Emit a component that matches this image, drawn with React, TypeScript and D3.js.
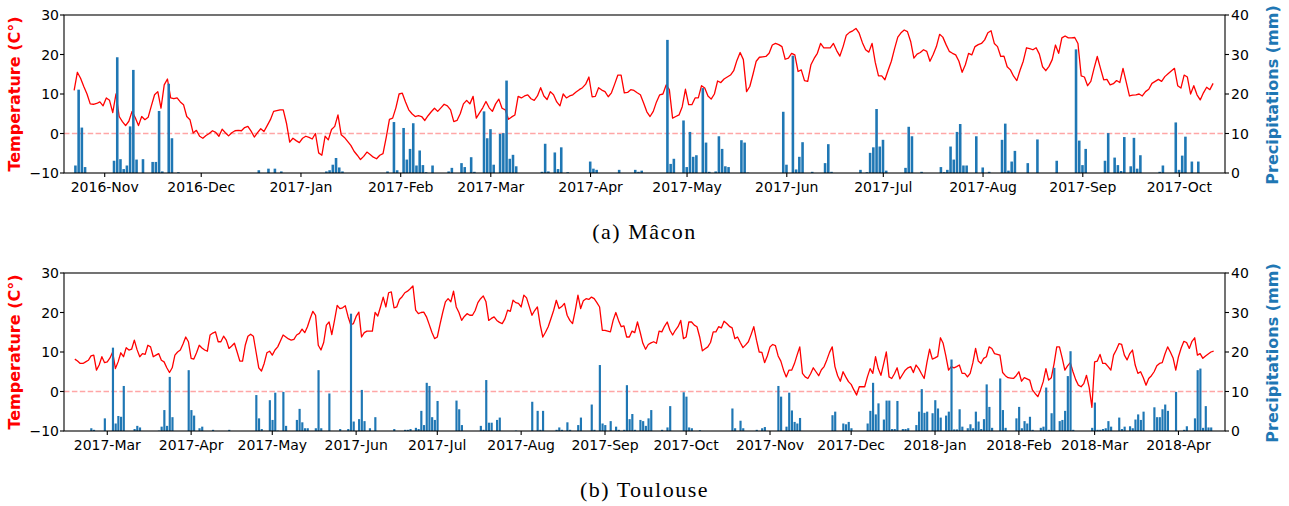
import React from "react";
import * as d3 from "d3";

const DAY = 864e5;

// Daily mean temperature, Mâcon, from 2016-10-22
const tempMacon = [
  10.9, 15.5, 14.0, 11.9, 10.0, 7.5, 7.4, 7.6, 8.0, 7.0,
  9.0, 8.4, 5.3, 10.0, 4.3, 3.0, 2.0, 3.1, 5.6, 4.0,
  2.0, 4.3, 3.5, 4.1, 7.0, 9.8, 10.6, 6.4, 12.3, 13.8,
  9.0, 8.8, 9.0, 8.0, 7.3, 4.3, 3.5, 0.1, 0.8, -0.7,
  -1.2, -0.5, 0.0, 0.7, 0.3, -0.7, 1.1, 0.2, -0.6, 0.2,
  0.7, 0.8, 0.7, 1.5, 1.8, 0.6, -0.9, 0.2, 1.2, 0.5,
  2.0, 3.5, 5.6, 5.8, 6.0, 6.0, 2.6, -2.2, -1.2, -1.8,
  -2.3, -1.2, -0.7, -1.0, -1.4, 0.0, -4.9, -5.5, -0.7, -1.6,
  1.0, 1.8, 4.7, -0.3, -1.0, -2.0, -3.0, -4.5, -5.5, -6.6,
  -5.8, -4.7, -5.3, -6.0, -6.4, -5.5, -5.1, -1.0, 3.6, 3.9,
  6.5, 10.0, 10.2, 8.0, 6.0, 5.0, 4.3, 4.5, 4.3, 3.3,
  4.5, 5.5, 6.4, 5.6, 6.5, 7.4, 7.0, 6.0, 3.0, 3.3,
  5.0, 7.5, 8.4, 7.5, 9.4, 3.9, 5.2, 6.5, 8.1, 6.5,
  5.6, 7.5, 8.7, 6.4, 6.0, 3.6, 4.2, 4.7, 9.4, 9.0,
  9.5, 9.8, 8.8, 8.4, 9.5, 11.6, 9.5, 8.6, 10.6, 9.8,
  8.0, 7.0, 10.0, 9.0, 9.5, 9.8, 10.5, 11.1, 11.6, 12.5,
  14.3, 9.3, 9.4, 11.6, 11.0, 10.6, 9.3, 10.3, 12.5, 14.8,
  14.8, 10.3, 10.4, 11.1, 10.9, 10.3, 9.8, 7.7, 5.5, 4.3,
  5.6, 8.0, 9.8, 10.0, 12.3, 11.1, 3.9, 4.3, 4.7, 6.8,
  11.2, 7.3, 7.3, 9.0, 9.0, 12.1, 11.5, 9.5, 8.7, 10.0,
  13.3, 12.9, 13.8, 14.3, 14.8, 15.9, 18.5, 20.5, 18.7, 10.6,
  11.9, 15.0, 18.3, 19.3, 19.4, 19.5, 20.3, 22.4, 22.8, 22.5,
  22.0, 18.8, 19.1, 20.3, 19.9, 15.7, 16.1, 13.4, 13.2, 17.4,
  19.0, 20.3, 22.8, 21.7, 21.7, 21.7, 22.8, 21.0, 19.6, 22.0,
  24.9, 25.6, 26.0, 26.6, 25.4, 23.0, 21.2, 20.6, 22.8, 18.0,
  14.6, 14.6, 13.6, 16.0, 18.3, 21.5, 24.4, 25.5, 26.2, 25.8,
  23.3, 19.1, 20.1, 20.5, 21.2, 20.8, 18.3, 20.0, 22.0, 25.1,
  24.4, 22.5, 20.8, 20.3, 19.9, 18.3, 15.5, 17.4, 20.3, 19.9,
  22.0, 22.5, 22.8, 23.7, 25.5, 26.0, 22.8, 22.0, 19.5, 19.6,
  16.9, 16.1, 14.5, 13.4, 16.0, 18.3, 21.7, 21.5, 21.2, 21.7,
  20.1, 16.9, 15.9, 17.0, 18.7, 22.4, 20.3, 24.2, 24.7, 24.2,
  24.2, 24.3, 22.8, 14.6, 14.3, 12.1, 13.2, 16.5, 19.5, 16.5,
  13.6, 13.7, 12.3, 12.6, 13.4, 12.9, 16.5, 13.0, 9.5, 9.7,
  9.8, 10.0, 9.5, 10.6, 11.2, 12.7, 13.2, 13.7, 13.2, 14.4,
  15.1, 15.8, 16.5, 12.1, 11.5, 14.8, 14.3, 10.0, 12.1, 9.8,
  8.5, 10.3, 11.7, 11.1, 12.7,
];

// [day index, mm] Mâcon
const precipMacon: [number, number][] = [
  [0, 1.9], [1, 21.1], [2, 11.5], [3, 1.5], [12, 3.1], [13, 29.3], [14, 3.5], [15, 1.0], [16, 1.9], [17, 11.8],
  [18, 26.1], [19, 3.4], [21, 3.5], [24, 2.8], [25, 2.8], [26, 15.7], [27, 0.4], [29, 22.6], [30, 8.8], [32, 0.2],
  [57, 0.7], [60, 1.1], [62, 1.1], [64, 0.4], [78, 0.4], [79, 0.7], [80, 2.1], [81, 3.8], [82, 1.4], [83, 0.4],
  [97, 0.4], [99, 12.9], [100, 0.7], [102, 11.4], [103, 3.4], [104, 6.1], [105, 12.6], [106, 1.9], [107, 5.7], [108, 2.0],
  [109, 0.2], [111, 1.9], [116, 0.4], [117, 1.3], [120, 2.5], [121, 1.5], [123, 4.0], [124, 0.3], [127, 15.6], [128, 8.8],
  [129, 11.1], [130, 2.1], [132, 9.9], [133, 10.1], [134, 23.4], [135, 3.6], [136, 4.6], [137, 1.7], [145, 0.3], [146, 7.4],
  [147, 0.4], [149, 5.2], [150, 1.0], [151, 6.5], [153, 0.2], [160, 2.9], [161, 1.1], [162, 0.8], [169, 0.8], [174, 0.8],
  [175, 0.3], [176, 0.6], [184, 33.7], [185, 2.3], [186, 3.6], [189, 13.3], [190, 1.5], [191, 10.4], [192, 4.1], [193, 4.5],
  [195, 21.5], [196, 7.7], [197, 0.3], [199, 0.4], [200, 9.3], [201, 6.1], [202, 1.7], [203, 1.5], [207, 8.3], [208, 7.7],
  [209, 0.1], [220, 15.5], [221, 2.1], [223, 29.7], [224, 0.9], [225, 4.1], [226, 7.8], [229, 0.3], [233, 2.5], [234, 7.3],
  [235, 0.3], [244, 0.8], [246, 0.2], [247, 5.1], [248, 6.5], [249, 16.2], [250, 6.7], [251, 8.4], [252, 0.6], [258, 1.3],
  [259, 11.7], [260, 9.3], [263, 0.3], [269, 1.5], [270, 0.2], [271, 0.8], [272, 6.7], [273, 3.4], [274, 10.4], [275, 12.4],
  [276, 1.9], [277, 1.9], [280, 9.3], [282, 1.4], [284, 0.3], [288, 8.4], [289, 12.5], [290, 0.6], [291, 2.9], [292, 5.6],
  [296, 2.5], [299, 8.5], [305, 3.1], [311, 31.3], [312, 8.2], [313, 2.0], [314, 6.1], [320, 3.1], [321, 10.1], [323, 3.9],
  [324, 2.0], [325, 0.5], [326, 9.1], [328, 1.7], [329, 8.9], [330, 1.1], [331, 4.5], [337, 0.3], [338, 1.9], [342, 12.8],
  [343, 0.8], [344, 4.4], [345, 9.2], [347, 2.9], [349, 2.9],
];

// Daily mean temperature, Toulouse, from 2017-02-17
const tempToulouse = [
  8.2, 7.7, 7.1, 7.1, 7.5, 7.9, 9.0, 9.2, 5.4, 6.7,
  8.8, 7.3, 7.5, 8.5, 10.0, 5.8, 7.5, 9.8, 8.8, 11.1,
  10.5, 10.7, 13.0, 10.6, 8.8, 9.6, 9.4, 11.7, 11.3, 8.8,
  9.2, 9.6, 7.9, 7.5, 6.0, 4.8, 6.0, 9.2, 10.0, 10.5,
  12.0, 13.8, 12.6, 8.4, 8.2, 9.8, 11.7, 11.0, 10.5, 10.2,
  14.3, 14.8, 15.1, 12.6, 12.6, 14.0, 13.0, 10.9, 11.5, 12.2,
  10.0, 7.7, 7.7, 11.7, 14.0, 14.5, 14.0, 10.0, 6.0, 5.2,
  7.1, 9.8, 10.2, 9.2, 10.5, 11.3, 12.8, 14.3, 13.8, 13.3,
  13.0, 13.2, 14.3, 14.7, 15.8, 14.9, 16.4, 18.5, 20.3, 19.3,
  11.7, 10.5, 12.4, 16.8, 17.6, 14.4, 18.0, 21.8, 21.0, 21.2,
  21.7, 19.0, 16.9, 17.2, 19.0, 20.1, 13.8, 14.9, 15.3, 15.3,
  15.3, 20.0, 19.1, 21.4, 23.9, 21.4, 25.0, 25.2, 21.2, 21.4,
  23.3, 24.0, 25.0, 25.4, 26.0, 26.7, 20.6, 19.7, 20.0, 20.1,
  18.9, 17.0, 15.0, 13.4, 13.8, 17.0, 20.0, 22.7, 23.5, 22.7,
  25.4, 21.4, 20.0, 18.0, 19.0, 19.7, 19.3, 19.3, 20.5, 22.5,
  23.5, 24.2, 22.7, 18.0, 18.5, 18.9, 18.0, 17.5, 17.2, 18.4,
  20.6, 20.3, 23.1, 22.5, 22.3, 21.4, 24.4, 23.7, 21.5, 19.3,
  20.5, 21.4, 17.0, 13.8, 15.0, 16.4, 18.4, 20.5, 23.1, 21.0,
  21.5, 22.3, 19.3, 18.0, 17.2, 20.5, 24.4, 21.0, 23.0, 23.5,
  23.3, 23.9, 23.5, 22.5, 21.4, 15.5, 15.5, 15.3, 15.1, 18.0,
  20.0, 18.0, 16.4, 16.6, 13.8, 13.8, 15.3, 14.9, 17.6, 15.0,
  12.2, 10.7, 11.9, 12.3, 12.6, 12.2, 15.3, 15.1, 16.5, 17.6,
  15.5, 14.3, 15.5, 16.4, 18.0, 13.4, 13.8, 17.6, 17.6, 16.8,
  16.4, 13.8, 10.3, 10.8, 11.3, 12.4, 15.1, 15.1, 16.4, 16.1,
  17.8, 17.2, 16.5, 16.1, 13.4, 13.8, 12.4, 11.1, 11.8, 12.6,
  14.4, 16.4, 13.0, 10.0, 9.9, 7.3, 9.0, 11.3, 11.9, 11.6,
  9.0, 7.7, 5.4, 3.7, 5.4, 5.4, 7.0, 9.2, 11.3, 4.6,
  3.7, 3.3, 4.5, 6.0, 5.0, 4.0, 5.5, 6.3, 8.0, 9.9,
  11.3, 6.3, 4.0, 2.6, 5.0, 3.7, 2.5, 1.8, 0.4, -0.9,
  1.2, 1.2, 1.2, 3.7, 5.8, 4.6, 8.8, 5.8, 4.1, 7.0,
  10.0, 3.7, 3.3, 4.5, 6.0, 3.2, 4.3, 5.4, 6.0, 6.3,
  4.8, 6.7, 5.8, 4.5, 3.3, 7.3, 10.7, 8.2, 8.5, 8.9,
  13.6, 12.2, 9.0, 5.4, 6.3, 6.0, 6.3, 6.7, 4.6, 4.6,
  3.7, 4.6, 7.3, 10.9, 7.7, 7.1, 8.4, 8.8, 11.3, 10.9,
  9.6, 9.4, 9.2, 4.8, 4.0, 3.5, 3.4, 3.3, 4.0, 5.0,
  2.6, 3.5, 3.2, 2.9, 0.4, -0.5, -1.3, 0.4, 2.5, 5.8,
  2.9, 3.5, 7.0, 11.3, 11.3, 8.5, 5.4, 6.5, 7.3, 5.0,
  3.0, 1.6, 1.2, 2.0, 4.1, 1.0, -4.0, 7.5, 7.7, 9.4,
  7.1, 7.1, 6.3, 5.4, 9.2, 10.5, 12.1, 11.9, 9.2, 8.0,
  9.6, 10.5, 6.7, 4.6, 5.0, 3.5, 1.6, 3.3, 4.0, 5.0,
  6.5, 7.1, 7.3, 9.5, 11.3, 10.0, 8.5, 5.4, 8.8, 11.0,
  12.7, 12.4, 10.9, 12.7, 13.6, 9.2, 9.6, 8.4, 9.0, 9.5,
  10.0, 10.2,
];

// [day index, mm] Toulouse
const precipToulouse: [number, number][] = [
  [6, 0.7], [7, 0.3], [11, 3.2], [14, 21.1], [15, 1.9], [16, 3.8], [17, 3.6], [18, 11.4], [22, 0.5], [23, 1.3],
  [24, 0.9], [31, 0.1], [32, 1.1], [33, 5.3], [34, 1.3], [35, 13.7], [36, 3.5], [42, 15.4], [43, 5.3], [44, 3.9],
  [46, 0.7], [47, 1.1], [51, 0.3], [57, 0.3], [67, 9.1], [68, 3.2], [69, 0.5], [72, 7.8], [73, 2.8], [74, 9.7],
  [75, 0.1], [77, 9.9], [78, 1.3], [82, 2.8], [83, 5.6], [84, 2.2], [85, 0.7], [86, 0.7], [89, 0.7], [90, 15.4],
  [91, 0.7], [94, 9.5], [98, 0.5], [101, 0.5], [102, 29.7], [103, 2.4], [105, 3.0], [106, 10.4], [107, 2.5], [109, 0.7],
  [111, 3.5], [118, 0.5], [122, 0.3], [123, 0.3], [124, 0.5], [126, 0.8], [127, 0.5], [128, 5.1], [129, 1.5], [130, 12.2],
  [131, 11.4], [132, 3.5], [133, 2.8], [134, 7.6], [141, 7.7], [142, 5.5], [143, 1.5], [150, 1.3], [151, 0.3], [152, 12.9],
  [153, 2.1], [154, 2.1], [156, 2.8], [157, 3.4], [163, 0.1], [169, 7.4], [171, 5.1], [172, 0.3], [173, 5.1], [178, 0.3],
  [179, 0.9], [180, 0.3], [182, 2.2], [183, 0.3], [186, 1.5], [187, 3.4], [191, 6.7], [192, 0.3], [194, 16.7], [195, 1.9],
  [196, 1.5], [198, 2.5], [200, 1.1], [201, 0.3], [203, 0.3], [204, 11.6], [205, 3.0], [206, 4.3], [207, 0.3], [209, 2.8],
  [210, 2.5], [211, 1.3], [212, 3.2], [213, 5.3], [217, 0.3], [219, 0.9], [220, 6.3], [225, 9.8], [226, 8.7], [227, 0.9],
  [228, 0.7], [231, 0.2], [243, 5.7], [244, 0.7], [246, 2.6], [247, 0.7], [252, 0.3], [254, 0.7], [255, 1.0], [260, 11.4],
  [261, 8.7], [263, 1.1], [264, 9.7], [265, 5.2], [266, 2.3], [267, 1.9], [268, 3.3], [280, 4.0], [281, 4.9], [284, 1.9],
  [285, 1.7], [286, 2.3], [287, 0.7], [293, 1.9], [294, 5.1], [295, 12.2], [296, 4.2], [297, 7.0], [299, 2.9], [300, 7.7],
  [301, 7.7], [302, 0.5], [303, 0.5], [304, 7.6], [306, 0.5], [307, 0.5], [308, 0.7], [311, 1.5], [312, 4.9], [313, 10.6],
  [314, 4.6], [315, 4.9], [317, 4.5], [318, 7.8], [319, 5.7], [320, 3.4], [322, 3.9], [323, 4.9], [324, 18.1], [325, 0.4],
  [326, 0.4], [327, 5.5], [328, 1.1], [330, 0.7], [331, 1.7], [332, 0.7], [333, 4.9], [334, 2.4], [335, 0.5], [336, 3.0],
  [337, 11.8], [338, 6.1], [339, 0.8], [342, 13.3], [343, 5.3], [344, 0.8], [348, 3.2], [349, 6.1], [350, 0.7], [351, 2.5],
  [352, 1.9], [353, 3.6], [354, 0.3], [357, 0.8], [358, 1.1], [359, 11.0], [360, 0.3], [361, 4.5], [362, 16.0], [364, 2.5],
  [365, 2.8], [366, 5.1], [367, 13.9], [368, 20.2], [369, 0.3], [376, 0.8], [377, 7.2], [378, 0.3], [379, 0.3], [380, 0.5],
  [381, 0.7], [382, 2.5], [383, 1.1], [386, 3.4], [387, 0.5], [388, 1.1], [390, 1.2], [391, 0.7], [392, 2.9], [393, 4.2],
  [394, 2.8], [395, 4.9], [399, 6.0], [400, 3.5], [401, 3.5], [402, 5.5], [403, 6.7], [404, 5.1], [407, 9.9], [410, 0.3],
  [411, 1.2], [414, 3.2], [415, 15.4], [416, 15.8], [417, 0.8], [418, 6.3], [419, 0.9], [420, 0.9],
];

const tempTicks = [-10, 0, 10, 20, 30];
const precipTicks = [0, 10, 20, 30, 40];

const LEFT = 64;
const RIGHT = 1225;
const FONT = "'DejaVu Sans', sans-serif";

const panels = [
  {
    key: "a",
    temps: tempMacon,
    precip: precipMacon,
    start: Date.UTC(2016, 9, 22, 12),
    barShift: 0.4,
    domain: [Date.UTC(2016, 10, 1) - 12.65 * DAY, Date.UTC(2016, 10, 1) + 348.2 * DAY],
    top: 15,
    bottom: 173,
    caption: "(a) Mâcon",
    captionY: 239,
  },
  {
    key: "b",
    temps: tempToulouse,
    precip: precipToulouse,
    start: Date.UTC(2017, 1, 17),
    barShift: 0.1,
    domain: [Date.UTC(2017, 2, 1) - 16.0 * DAY, Date.UTC(2017, 2, 1) + 413.2 * DAY],
    top: 273,
    bottom: 431,
    caption: "(b) Toulouse",
    captionY: 497,
  },
];

function Panel({ p }: { p: (typeof panels)[number] }) {
  const x = d3.scaleUtc().domain(p.domain).range([LEFT, RIGHT]);
  const yT = d3.scaleLinear().domain([-10, 30]).range([p.bottom, p.top]);
  const yP = d3.scaleLinear().domain([0, 40]).range([p.bottom, p.top]);
  const line = d3
    .line<number>()
    .x((_, i) => x(new Date(p.start + i * DAY)))
    .y((d) => yT(d));
  const bw = x(new Date(p.start + 0.8 * DAY)) - x(new Date(p.start));
  const months = x.ticks(d3.utcMonth.every(1)!);
  const fmt = d3.utcFormat("%Y-%b");
  const nf = d3.format("d");
  const midY = (p.top + p.bottom) / 2;

  return (
    <g>
      {/* temperature line */}
      <path d={line(p.temps) || ""} fill="none" stroke="#ff0000" strokeWidth={1.3} strokeLinejoin="round" />
      {/* zero line */}
      <line
        x1={LEFT}
        x2={RIGHT}
        y1={yT(0)}
        y2={yT(0)}
        stroke="#ff0000"
        strokeOpacity={0.35}
        strokeWidth={1.5}
        strokeDasharray="5.5,2.4"
      />
      {/* precipitation bars */}
      {p.precip.map(([d, v]) => {
        const cx = x(new Date(p.start + (d + p.barShift) * DAY));
        return (
          <rect key={d} x={cx - bw / 2} y={yP(v)} width={bw} height={yP(0) - yP(v)} fill="#1f77b4" />
        );
      })}
      {/* frame */}
      <rect x={LEFT} y={p.top} width={RIGHT - LEFT} height={p.bottom - p.top} fill="none" stroke="#000" strokeWidth={1.1} />
      {/* left ticks */}
      {tempTicks.map((t) => (
        <g key={"l" + t}>
          <line x1={LEFT - 4} x2={LEFT} y1={yT(t)} y2={yT(t)} stroke="#000" strokeWidth={1.1} />
          <text x={LEFT - 5} y={yT(t)} dy="0.36em" textAnchor="end" fontFamily={FONT} fontSize={14} fill="#000">
            {nf(t)}
          </text>
        </g>
      ))}
      {/* right ticks */}
      {precipTicks.map((t) => (
        <g key={"r" + t}>
          <line x1={RIGHT} x2={RIGHT + 4} y1={yP(t)} y2={yP(t)} stroke="#000" strokeWidth={1.1} />
          <text x={RIGHT + 6} y={yP(t)} dy="0.36em" textAnchor="start" fontFamily={FONT} fontSize={14} fill="#000">
            {nf(t)}
          </text>
        </g>
      ))}
      {/* x ticks */}
      {months.map((m) => (
        <g key={"x" + m.getTime()}>
          <line x1={x(m)} x2={x(m)} y1={p.bottom} y2={p.bottom + 4} stroke="#000" strokeWidth={1.1} />
          <text x={x(m)} y={p.bottom + 18.5} textAnchor="middle" fontFamily={FONT} fontSize={14} fill="#000">
            {fmt(m)}
          </text>
        </g>
      ))}
      {/* axis titles */}
      <text
        transform={`translate(20,${midY}) rotate(-90)`}
        textAnchor="middle"
        fontFamily={FONT}
        fontSize={16}
        fontWeight="bold"
        fill="#ff0000"
      >
        Temperature (C°)
      </text>
      <text
        transform={`translate(1277.5,${midY + 1}) rotate(-90)`}
        textAnchor="middle"
        fontFamily={FONT}
        fontSize={16}
        fontWeight="bold"
        fill="#1f77b4"
      >
        Precipitations (mm)
      </text>
      {/* caption */}
      <text
        x={644.5}
        y={p.captionY}
        textAnchor="middle"
        fontFamily="'Liberation Serif', serif"
        fontSize={22}
        letterSpacing={1.5}
        fill="#000"
      >
        {p.caption}
      </text>
    </g>
  );
}

export default function App() {
  return (
    <svg
      width={1289}
      height={506}
      style={{ position: "absolute", left: 0, top: 0, background: "#fff" }}
    >
      <rect width={1289} height={506} fill="#fff" />
      {panels.map((p) => (
        <Panel key={p.key} p={p} />
      ))}
    </svg>
  );
}
